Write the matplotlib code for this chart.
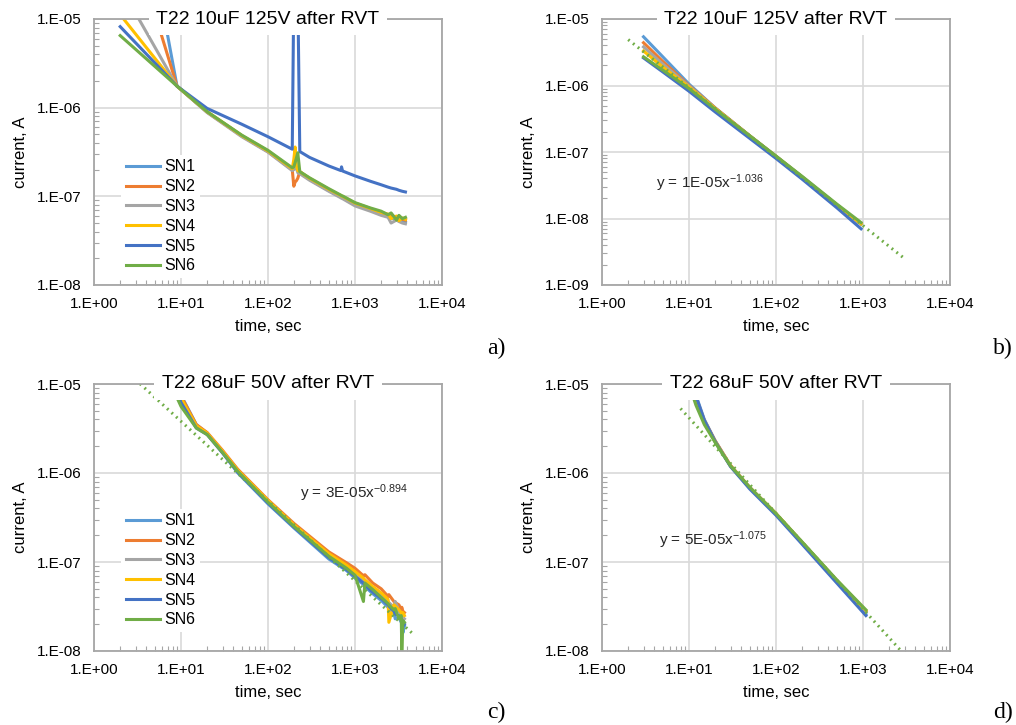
import numpy as np
import matplotlib.pyplot as plt
from matplotlib.ticker import LogLocator, FuncFormatter, NullFormatter

plt.rcParams['font.family'] = ['Liberation Sans', 'DejaVu Sans']
plt.rcParams['mathtext.fontset'] = 'custom'
plt.rcParams['mathtext.rm'] = 'Liberation Sans'
plt.rcParams['mathtext.it'] = 'Liberation Sans:italic'
plt.rcParams['mathtext.default'] = 'regular'

labels = ['SN1', 'SN2', 'SN3', 'SN4', 'SN5', 'SN6']
colors = ['#5B9BD5', '#ED7D31', '#A5A5A5', '#FFC000', '#4472C4', '#70AD47']
trend_color = '#70AD47'

# a) T22 10uF 125V, whole record (spike at ~200 s)
t_a = [2, 9, 20, 50, 100, 190, 198, 205, 212, 220, 232, 300, 500, 690, 700, 720,
       1000, 1500, 2000, 2400, 2600, 3000, 3200, 3500, 3800]
a_sn1 = [5.1e-3, 1.75e-6, 8.9e-7, 4.8e-7, 3.2e-7, 2.0e-7, 2.05e-7, 2.1e-7, 2.05e-7, 1.95e-7, 1.85e-7,
         1.55e-7, 1.16e-7, 9.8e-8, 9.7e-8, 9.6e-8, 8.0e-8, 7.0e-8, 6.3e-8, 5.9e-8, 5.7e-8, 5.5e-8,
         5.3e-8, 5.2e-8, 5.1e-8]
a_sn2 = [2.2e-4, 1.75e-6, 8.9e-7, 4.8e-7, 3.2e-7, 2.0e-7, 1.3e-7, 1.45e-7, 1.5e-7, 1.6e-7, 1.9e-7,
         1.58e-7, 1.18e-7, 1.0e-7, 9.9e-8, 9.8e-8, 8.2e-8, 7.1e-8, 6.4e-8, 6.0e-8, 6.2e-8, 5.7e-8,
         6.0e-8, 5.5e-8, 5.4e-8]
a_sn3 = [2.35e-5, 1.75e-6, 8.8e-7, 4.7e-7, 3.15e-7, 1.95e-7, 2.0e-7, 2.2e-7, 2.1e-7, 1.85e-7, 1.8e-7,
         1.52e-7, 1.14e-7, 9.6e-8, 9.5e-8, 9.4e-8, 7.8e-8, 6.8e-8, 6.1e-8, 5.8e-8, 5.0e-8, 5.4e-8,
         5.2e-8, 5.0e-8, 4.9e-8]
a_sn4 = [1.12e-5, 1.75e-6, 9.0e-7, 4.85e-7, 3.25e-7, 2.05e-7, 2.6e-7, 3.6e-7, 2.2e-7, 1.95e-7, 1.9e-7,
         1.6e-7, 1.2e-7, 1.02e-7, 1.01e-7, 1.0e-7, 8.4e-8, 7.3e-8, 6.6e-8, 6.3e-8, 5.6e-8, 6.0e-8,
         5.3e-8, 5.7e-8, 5.5e-8]
a_sn5 = [8.2e-6, 1.75e-6, 9.8e-7, 6.5e-7, 4.7e-7, 3.4e-7, 2e-5, 2e-5, 2e-5, 2e-5, 3.2e-7,
         2.75e-7, 2.2e-7, 1.95e-7, 2.15e-7, 1.93e-7, 1.7e-7, 1.48e-7, 1.35e-7, 1.27e-7, 1.24e-7,
         1.2e-7, 1.17e-7, 1.14e-7, 1.12e-7]
a_sn6 = [6.5e-6, 1.75e-6, 9.0e-7, 4.9e-7, 3.3e-7, 2.1e-7, 2.15e-7, 2.4e-7, 2.7e-7, 3.1e-7, 1.9e-7,
         1.62e-7, 1.22e-7, 1.03e-7, 1.02e-7, 1.01e-7, 8.5e-8, 7.4e-8, 6.8e-8, 6.2e-8, 6.5e-8, 5.4e-8,
         6.1e-8, 5.6e-8, 5.8e-8]

# b) T22 10uF 125V, fitted part
t_b = [3, 5, 10, 20, 50, 100, 200, 500, 950]
b_sn1 = [5.4e-6, 2.7e-6, 1.05e-6, 4.6e-7, 1.75e-7, 8.6e-8, 4.2e-8, 1.6e-8, 8.2e-9]
b_sn2 = [4.4e-6, 2.3e-6, 1.0e-6, 4.6e-7, 1.75e-7, 8.6e-8, 4.2e-8, 1.6e-8, 8.3e-9]
b_sn3 = [3.8e-6, 2.1e-6, 9.8e-7, 4.5e-7, 1.74e-7, 8.6e-8, 4.2e-8, 1.6e-8, 8.2e-9]
b_sn4 = [3.3e-6, 1.9e-6, 9.5e-7, 4.5e-7, 1.74e-7, 8.6e-8, 4.2e-8, 1.6e-8, 8.3e-9]
b_sn5 = [2.6e-6, 1.6e-6, 8.2e-7, 4.0e-7, 1.6e-7, 8.0e-8, 3.9e-8, 1.45e-8, 7.0e-9]
b_sn6 = [2.7e-6, 1.7e-6, 9.0e-7, 4.4e-7, 1.75e-7, 8.7e-8, 4.3e-8, 1.65e-8, 8.7e-9]
trend_b_t = [2, 3000]
trend_b_i = [4.9e-6, 2.5e-9]
eq_b = 'y = 1E-05x$^{-1.036}$'

# c) T22 68uF 50V, whole record
t_c = [7, 10, 15, 20, 30, 45, 100, 200, 500, 800, 1000, 1250, 1300, 1600, 2000, 2400, 2450,
       2800, 2900, 3200, 3400, 3450, 3550, 3700]
c_sn1 = [2.4e-5, 7.5e-6, 3.5e-6, 2.8e-6, 1.7e-6, 1.0e-6, 4.5e-7, 2.4e-7, 1.08e-7, 8.0e-8, 6.6e-8,
         5.6e-8, 5.3e-8, 4.4e-8, 3.7e-8, 3.1e-8, 3.0e-8, 2.7e-8, 2.3e-8, 2.4e-8, 2.1e-8, 2.2e-8,
         1.6e-8, 1.9e-8]
c_sn2 = [2.0e-5, 7.3e-6, 3.5e-6, 2.85e-6, 1.8e-6, 1.1e-6, 5.0e-7, 2.7e-7, 1.3e-7, 9.8e-8, 8.5e-8,
         7.0e-8, 7.2e-8, 5.8e-8, 5.0e-8, 4.1e-8, 4.3e-8, 3.6e-8, 3.5e-8, 3.3e-8, 2.9e-8, 3.1e-8,
         2.8e-8, 2.7e-8]
c_sn3 = [1.6e-5, 6.5e-6, 3.3e-6, 2.75e-6, 1.72e-6, 1.05e-6, 4.8e-7, 2.55e-7, 1.2e-7, 8.7e-8, 7.4e-8,
         6.2e-8, 6.0e-8, 5.0e-8, 4.2e-8, 3.6e-8, 3.5e-8, 3.1e-8, 3.6e-8, 2.8e-8, 2.6e-8, 2.5e-8,
         2.4e-8, 2.3e-8]
c_sn4 = [1.8e-5, 6.9e-6, 3.4e-6, 2.8e-6, 1.76e-6, 1.07e-6, 4.9e-7, 2.6e-7, 1.24e-7, 9.2e-8, 7.8e-8,
         6.6e-8, 6.3e-8, 5.3e-8, 4.5e-8, 3.8e-8, 2.1e-8, 3.3e-8, 3.2e-8, 2.9e-8, 2.7e-8, 2.6e-8,
         2.7e-8, 2.5e-8]
c_sn5 = [1.7e-5, 6.2e-6, 3.2e-6, 2.7e-6, 1.68e-6, 1.02e-6, 4.6e-7, 2.45e-7, 1.12e-7, 8.2e-8, 6.9e-8,
         5.8e-8, 5.5e-8, 4.6e-8, 3.9e-8, 3.3e-8, 3.2e-8, 2.8e-8, 2.6e-8, 2.5e-8, 2.3e-8, 2.2e-8,
         1.9e-8, 2.0e-8]
c_sn6 = [1.2e-5, 5.6e-6, 3.2e-6, 2.7e-6, 1.7e-6, 1.04e-6, 4.7e-7, 2.5e-7, 1.16e-7, 8.5e-8, 7.1e-8,
         3.6e-8, 5.8e-8, 4.9e-8, 4.0e-8, 3.4e-8, 3.3e-8, 2.9e-8, 3.0e-8, 2.3e-8, 2.5e-8, 1.0e-8,
         2.2e-8, 2.1e-8]
trend_c_t = [3, 4500]
trend_c_i = [1.12e-5, 1.6e-8]
eq_c = 'y = 3E-05x$^{-0.894}$'

# d) T22 68uF 50V, fitted part
t_d = [9, 10, 12, 15, 20, 30, 50, 100, 200, 500, 1080]
d_sn1 = [2.5e-5, 1.5e-5, 7.5e-6, 4.0e-6, 2.3e-6, 1.2e-6, 6.8e-7, 3.45e-7, 1.63e-7, 6.0e-8, 2.6e-8]
d_sn2 = [2.2e-5, 1.35e-5, 7.0e-6, 3.9e-6, 2.3e-6, 1.22e-6, 6.9e-7, 3.5e-7, 1.66e-7, 6.2e-8, 2.8e-8]
d_sn3 = [2.0e-5, 1.25e-5, 6.6e-6, 3.8e-6, 2.25e-6, 1.2e-6, 6.8e-7, 3.45e-7, 1.65e-7, 6.1e-8, 2.75e-8]
d_sn4 = [1.9e-5, 1.2e-5, 6.4e-6, 3.7e-6, 2.25e-6, 1.2e-6, 6.8e-7, 3.5e-7, 1.66e-7, 6.2e-8, 2.85e-8]
d_sn5 = [2.4e-5, 1.45e-5, 7.3e-6, 3.9e-6, 2.25e-6, 1.18e-6, 6.6e-7, 3.35e-7, 1.58e-7, 5.8e-8, 2.5e-8]
d_sn6 = [1.5e-5, 1.0e-5, 5.8e-6, 3.5e-6, 2.2e-6, 1.2e-6, 6.9e-7, 3.5e-7, 1.68e-7, 6.3e-8, 2.9e-8]
trend_d_t = [8, 3000]
trend_d_i = [5.3e-6, 9.1e-9]
eq_d = 'y = 5E-05x$^{-1.075}$'

title_a = 'T22 10uF 125V after RVT'
title_c = 'T22 68uF 50V after RVT'


def excel_fmt(v, pos):
    e = int(round(np.log10(v)))
    return '1.E%+03d' % e


fig = plt.figure(figsize=(10.16, 7.25), dpi=100)
W, H = 1016.0, 725.0

def make_ax(left, top, right, bottom):
    return fig.add_axes([left / W, 1 - bottom / H, (right - left) / W, (bottom - top) / H])

ax_a = make_ax(94, 19, 442, 285)
ax_b = make_ax(602, 19, 950, 285)
ax_c = make_ax(94, 384, 442, 651)
ax_d = make_ax(602, 384, 950, 651)

panels = [
    (ax_a, title_a, t_a, [a_sn1, a_sn2, a_sn3, a_sn4, a_sn5, a_sn6], 1e-8, None, None, None, None),
    (ax_b, title_a, t_b, [b_sn1, b_sn2, b_sn3, b_sn4, b_sn5, b_sn6], 1e-9, trend_b_t, trend_b_i, eq_b, (4.2, 3.4e-8)),
    (ax_c, title_c, t_c, [c_sn1, c_sn2, c_sn3, c_sn4, c_sn5, c_sn6], 1e-8, trend_c_t, trend_c_i, eq_c, (233, 6.0e-7)),
    (ax_d, title_c, t_d, [d_sn1, d_sn2, d_sn3, d_sn4, d_sn5, d_sn6], 1e-8, trend_d_t, trend_d_i, eq_d, (4.5, 1.77e-7)),
]

for ax, title, t, series, ymin, tr_t, tr_i, eq, eq_pos in panels:
    for vals, lab, col in zip(series, labels, colors):
        ax.plot(t, vals, color=col, lw=2.2, label=lab, solid_joinstyle='round')
    if tr_t is not None:
        ax.plot(tr_t, tr_i, color=trend_color, lw=2.2, linestyle=(0, (0.6, 1.4)))
        ax.text(eq_pos[0], eq_pos[1], eq, fontsize=11, ha='left', va='center', color='#262626')
    ax.set_xscale('log')
    ax.set_yscale('log')
    ax.set_xlim(1, 1e4)
    ax.set_ylim(ymin, 1e-5)
    for axis in (ax.xaxis, ax.yaxis):
        axis.set_major_locator(LogLocator(base=10, numticks=20))
        axis.set_minor_locator(LogLocator(base=10, subs=np.arange(2, 10), numticks=20))
        axis.set_major_formatter(FuncFormatter(excel_fmt))
        axis.set_minor_formatter(NullFormatter())
    ax.grid(True, which='major', color='#d9d9d9', lw=1.2)
    ax.set_axisbelow(True)
    ax.tick_params(which='both', direction='in', color='#a6a6a6', width=0.8, labelsize=11, labelcolor='#000000')
    ax.tick_params(which='major', length=0)
    ax.tick_params(which='minor', length=3.5)
    ax.tick_params(axis='y', which='major', pad=9)
    ax.tick_params(axis='x', which='major', pad=9)
    for sp in ax.spines.values():
        sp.set_color('#a6a6a6')
        sp.set_linewidth(1.3)
    ax.set_xlabel('time, sec', fontsize=12)
    ax.set_ylabel('current, A', fontsize=12)
    ax.xaxis.label.set_va('center')
    ax.yaxis.label.set_va('center')
    ax.xaxis.set_label_coords(0.5, -0.155)
    ax.yaxis.set_label_coords(-0.21, 0.5)
    ax.set_title(title, fontsize=14, y=1.0, pad=0, va='center',
                 bbox=dict(boxstyle='square,pad=0.4', fc='white', ec='none'))

for ax, ytop in [(ax_a, 0.49), (ax_c, 0.533)]:
    ax.legend(loc='upper left', bbox_to_anchor=(0.079, ytop), fontsize=11.5, frameon=True,
              fancybox=False, edgecolor='none', facecolor='white', framealpha=1,
              borderpad=0.3, borderaxespad=0, handlelength=2.1, handletextpad=0.25,
              labelspacing=0.3)

for txt, x, y in [('a)', 505, 348), ('b)', 1013, 348), ('c)', 505, 712), ('d)', 1013, 712)]:
    fig.text(x / W, 1 - y / H, txt, ha='right', va='center', fontsize=17, family='Liberation Serif')

fig.savefig('out.png', dpi=100)
